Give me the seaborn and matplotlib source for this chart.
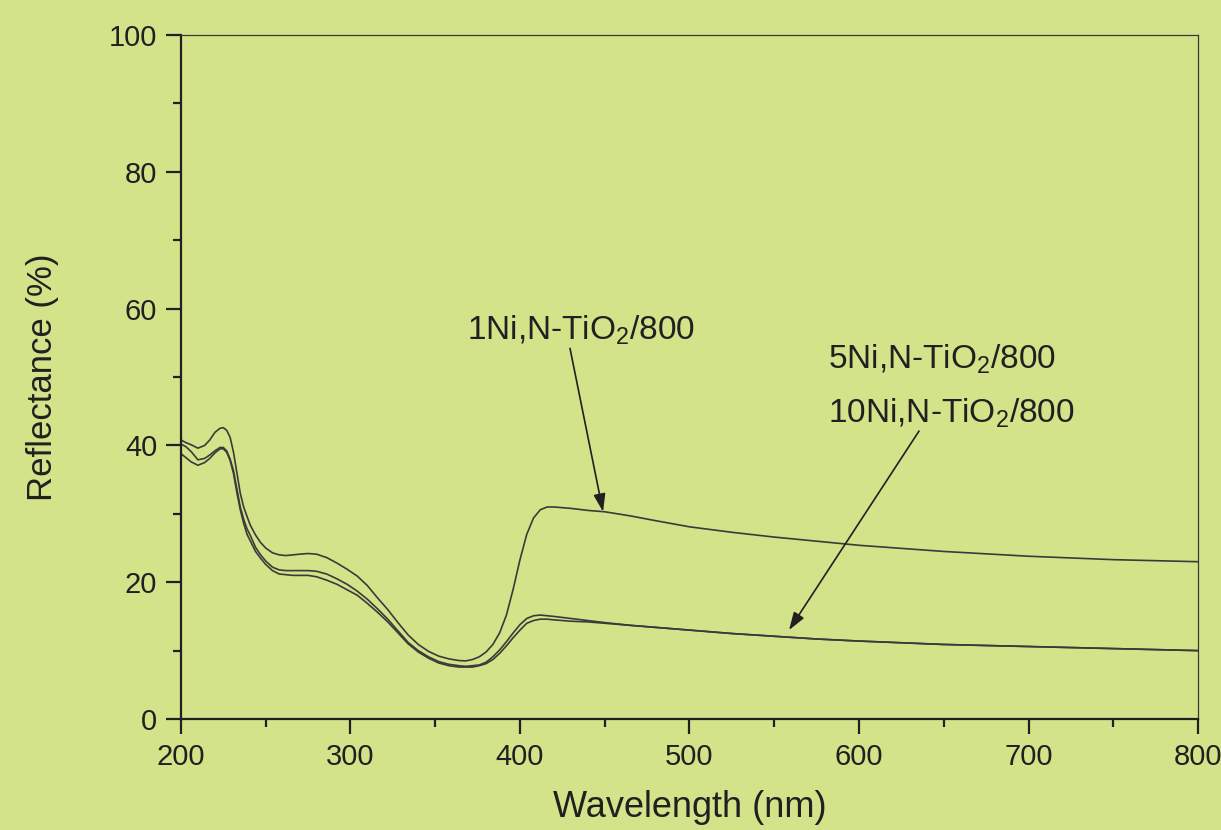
import numpy as np
import pandas as pd
import matplotlib
matplotlib.use("Agg")
import matplotlib.pyplot as plt
from matplotlib.ticker import MultipleLocator
import seaborn as sns

# -------------------- datos -------------------- #
wavelength = [200, 203, 206, 210, 214, 217, 220, 223, 225, 227,
              229, 231, 233, 235, 237, 239, 241, 244, 247, 250,
              254, 258, 262, 266, 270, 275, 280, 286, 292, 298,
              304, 310, 316, 322, 328, 334, 340, 346, 352, 358,
              364, 368, 372, 376, 380, 384, 388, 392, 396, 400,
              404, 408, 412, 416, 420, 430, 440, 450, 465, 480,
              500, 525, 550, 575, 600, 650, 700, 750, 800]

r_1ni = [40.8, 40.4, 40.1, 39.6, 40.0, 40.8, 41.9, 42.5, 42.6, 42.2,
         41.2, 39.0, 36.0, 33.0, 31.0, 29.6, 28.3, 26.9, 25.8, 25.0,
         24.3, 24.0, 23.9, 24.0, 24.1, 24.2, 24.1, 23.6, 22.8, 21.9,
         20.9, 19.5, 17.7, 16.0, 14.1, 12.3, 10.9, 9.9, 9.2, 8.8,
         8.55, 8.5, 8.7, 9.1, 9.8, 10.9, 12.6, 15.2, 19.0, 23.3,
         27.0, 29.4, 30.6, 31.0, 31.0, 30.8, 30.5, 30.3, 29.7, 29.0,
         28.1, 27.3, 26.6, 26.0, 25.4, 24.5, 23.8, 23.3, 23.0]

r_5ni = [40.2, 39.8, 39.1, 37.9, 38.1, 38.6, 39.2, 39.7, 39.7, 39.2,
         38.0, 36.3, 33.6, 31.0, 29.2, 27.8, 26.8, 25.1, 24.0, 23.1,
         22.2, 21.8, 21.7, 21.7, 21.7, 21.7, 21.6, 21.2, 20.5, 19.7,
         18.7, 17.5, 16.1, 14.6, 12.9, 11.2, 10.0, 9.1, 8.4, 8.0,
         7.8, 7.7, 7.8, 7.9, 8.3, 9.1, 10.1, 11.3, 12.6, 13.8,
         14.7, 15.1, 15.2, 15.1, 15.0, 14.7, 14.4, 14.1, 13.7, 13.4,
         13.0, 12.5, 12.1, 11.7, 11.4, 10.9, 10.6, 10.3, 10.0]

r_10ni = [38.8, 38.2, 37.6, 37.1, 37.5, 38.1, 38.9, 39.5, 39.5, 39.0,
          37.8, 35.9, 33.1, 30.6, 28.6, 27.0, 26.0, 24.5, 23.5, 22.6,
          21.7, 21.2, 21.1, 21.0, 21.0, 21.0, 20.8, 20.3, 19.7, 18.9,
          18.1, 16.9, 15.6, 14.2, 12.6, 11.0, 9.8, 8.9, 8.2, 7.8,
          7.6, 7.6, 7.6, 7.8, 8.1, 8.7, 9.6, 10.7, 11.9, 13.0,
          14.0, 14.4, 14.6, 14.6, 14.5, 14.3, 14.2, 14.0, 13.7, 13.4,
          13.0, 12.5, 12.1, 11.7, 11.4, 10.9, 10.6, 10.3, 10.0]

muestras = ['1Ni,N-TiO2/800', '5Ni,N-TiO2/800', '10Ni,N-TiO2/800']

df = pd.DataFrame({
    'Wavelength': wavelength * 3,
    'Reflectance': r_1ni + r_5ni + r_10ni,
    'Muestra': [m for m in muestras for _ in wavelength],
})

# -------------------- estilo -------------------- #
fondo = '#D3E38A'
tinta = '#231F20'
sns.set_theme(style='ticks')
plt.rcParams['font.family'] = ['Liberation Sans', 'DejaVu Sans']
plt.rcParams['mathtext.fontset'] = 'custom'
plt.rcParams['mathtext.rm'] = 'Liberation Sans'
plt.rcParams['mathtext.it'] = 'Liberation Sans:italic'

fig = plt.figure(figsize=(12.21, 8.30), dpi=100, facecolor=fondo)
ax = fig.add_axes([0.1482, 0.1337, 0.8330, 0.8241])
ax.set_facecolor(fondo)

sns.lineplot(data=df, x='Wavelength', y='Reflectance', hue='Muestra',
             palette=['#3a3a3a'] * 3, linewidth=1.2, legend=False, ax=ax,
             sort=False, estimator=None)

ax.set_xlim(200, 800)
ax.set_ylim(0, 100)
ax.xaxis.set_major_locator(MultipleLocator(100))
ax.xaxis.set_minor_locator(MultipleLocator(50))
ax.yaxis.set_major_locator(MultipleLocator(20))
ax.yaxis.set_minor_locator(MultipleLocator(10))
ax.tick_params(which='major', direction='out', length=11, width=1.6,
               labelsize=21, colors=tinta, pad=6)
ax.tick_params(which='minor', direction='out', length=6, width=1.6, colors=tinta)

for lado in ['left', 'bottom']:
    ax.spines[lado].set_linewidth(1.6)
    ax.spines[lado].set_color(tinta)
for lado in ['top', 'right']:
    ax.spines[lado].set_linewidth(0.9)
    ax.spines[lado].set_color('#3a3a3a')

ax.set_xlabel('Wavelength (nm)', fontsize=26, color=tinta, labelpad=14)
ax.set_ylabel('Reflectance (%)', fontsize=25, color=tinta, labelpad=36)

# -------------------- etiquetas y flechas -------------------- #
etiqueta_kw = dict(fontsize=24, color=tinta, ha='left', va='baseline')
ax.text(368.7, 55.4, r'1Ni,N-TiO$_2$/800', **etiqueta_kw)
ax.text(581.7, 51.2, r'5Ni,N-TiO$_2$/800', **etiqueta_kw)
ax.text(581.7, 43.3, r'10Ni,N-TiO$_2$/800', **etiqueta_kw)

flecha = dict(arrowstyle='-|>,head_length=0.9,head_width=0.3',
              color=tinta, lw=1.2, shrinkA=0, shrinkB=0)
ax.annotate('', xy=(449, 30.3), xytext=(429.5, 54.2), arrowprops=flecha)
ax.annotate('', xy=(558.7, 13.0), xytext=(635.4, 42.1), arrowprops=flecha)

fig.savefig('out.png', dpi=100, facecolor=fondo)
